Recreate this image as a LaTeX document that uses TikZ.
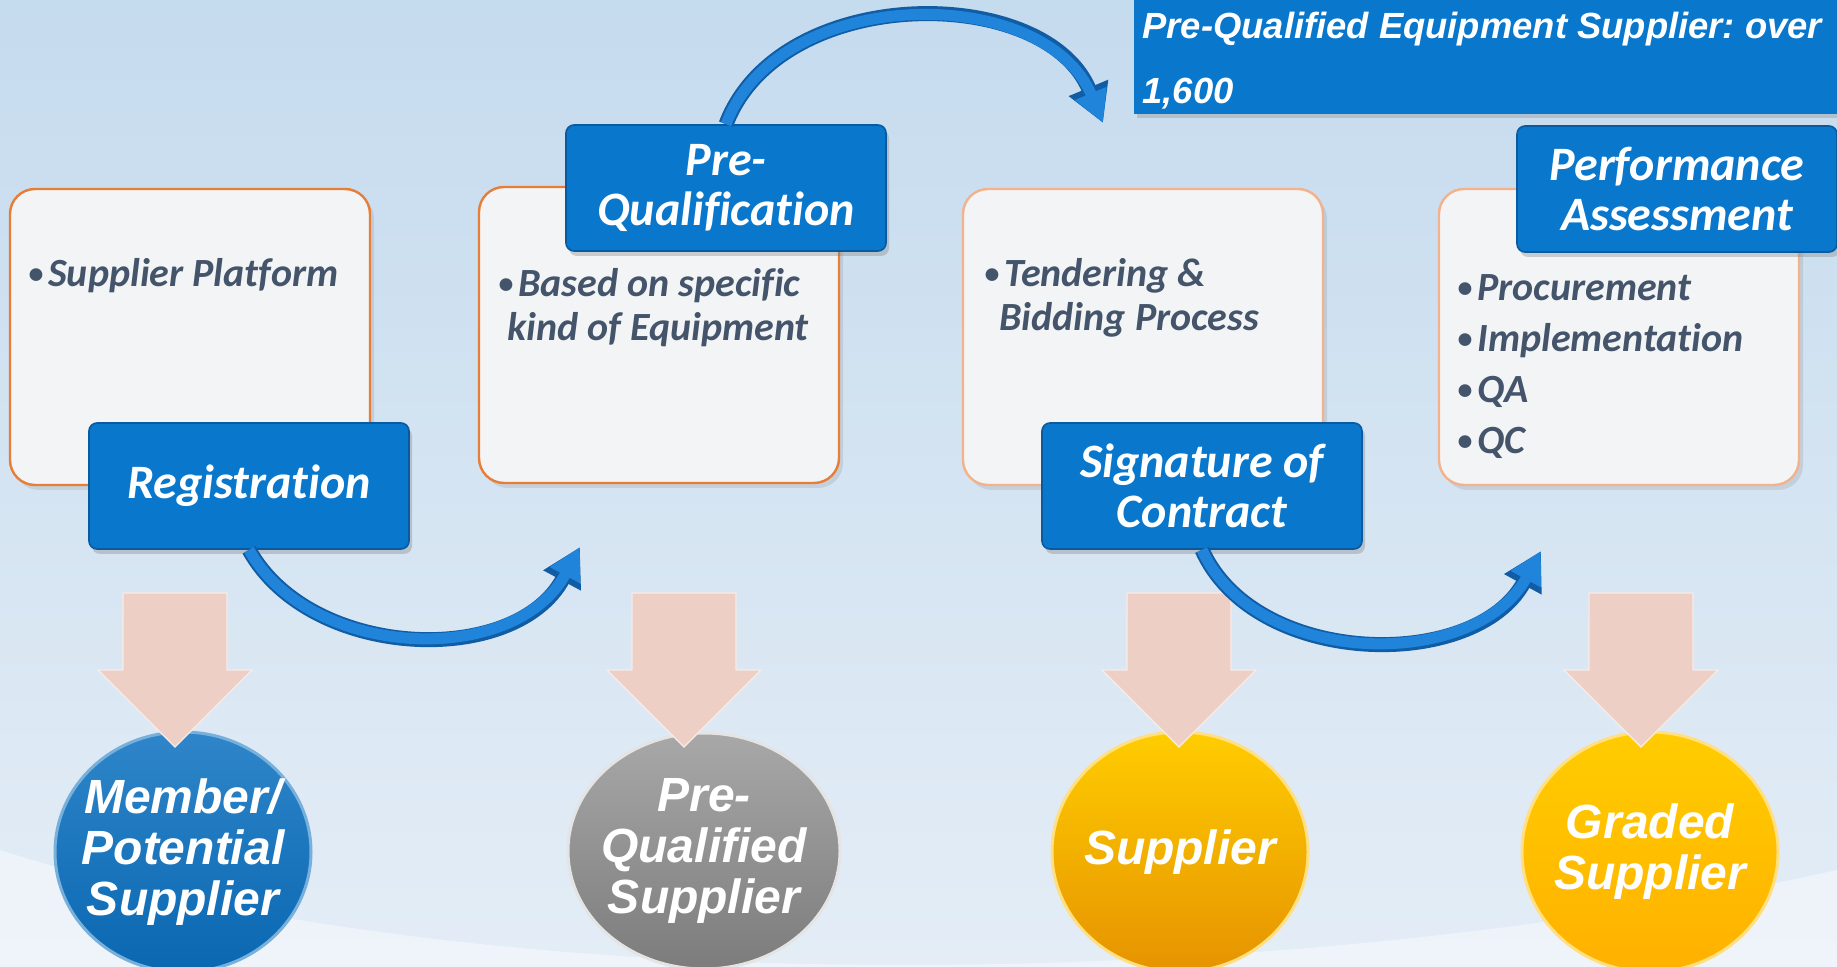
\documentclass[tikz,border=0pt]{standalone}
\usepackage{fontspec}
\setmainfont{Carlito}[Ligatures=NoCommon]
\newfontfamily\arialfont{Liberation Sans}
\usetikzlibrary{arrows.meta,shadows,shapes.geometric,positioning}
\frenchspacing

\definecolor{bgtop}{RGB}{197,219,238}
\definecolor{bgbot}{RGB}{228,237,246}
\definecolor{boxfill}{RGB}{242,244,245}
\definecolor{boxline}{RGB}{232,125,55}
\definecolor{boxlinelight}{RGB}{243,178,140}
\definecolor{labelblue}{RGB}{8,119,204}
\definecolor{labeledge}{RGB}{10,90,160}
\definecolor{slate}{RGB}{68,84,106}
\definecolor{pinkfill}{RGB}{238,207,198}
\definecolor{curveblue}{RGB}{32,132,218}
\definecolor{curveedge}{RGB}{16,92,165}
\definecolor{medblue}{RGB}{10,112,192}
\definecolor{medgrey}{RGB}{146,146,146}
\definecolor{medgold}{RGB}{255,192,0}

\def\pinkarrow#1{(#1-52,593) -- (#1+52,593) -- (#1+52,670) -- (#1+77,670) -- (#1,747) -- (#1-77,670) -- (#1-52,670) -- cycle}
\newcommand{\bul}{{\fontsize{15}{15}\selectfont\raisebox{1.5pt}{\textbullet}}\hspace{2.5pt}}

\tikzset{
  infobox/.style={draw=boxline, line width=1.2pt, fill=boxfill, rounded corners=12.5pt,
    minimum width=180pt, minimum height=148pt, inner sep=0pt,
    drop shadow={shadow xshift=2pt, shadow yshift=-2.5pt, opacity=0.2}},
  stagebox/.style={fill=labelblue, draw=labeledge, line width=0.8pt, rounded corners=4pt,
    minimum width=160pt, minimum height=63pt, inner sep=0pt, align=center, text=white,
    font=\fontsize{24}{25}\selectfont\bfseries\itshape,
    drop shadow={shadow xshift=1.5pt, shadow yshift=-2.5pt, opacity=0.35}},
  bullettext/.style={anchor=base west, inner sep=0pt, align=left, text=slate,
    font=\fontsize{20}{22}\selectfont\bfseries\itshape},
  medal/.style={ellipse, inner sep=-9pt, minimum width=128pt, minimum height=120pt,
    align=center, text=white, line width=1.5pt,
    font=\arialfont\fontsize{24}{25.5}\selectfont\bfseries\itshape},
  bendarrow/.style={draw=curveblue, line width=5.5pt, -{Triangle[length=16pt,width=16pt]},
    preaction={draw=curveedge, line width=7.5pt, -{Triangle[length=19pt,width=20pt]}}},
  pinkdown/.style={fill=pinkfill, draw=white!60!pinkfill, line width=0.6pt}
}

\begin{document}
\begin{tikzpicture}[x=0.5pt,y=-0.5pt]
    \useasboundingbox (0,0) rectangle (1837,967);

    % backdrop
    \fill[top color=bgtop, bottom color=bgbot] (0,0) rectangle (1837,967);
    \fill[white, opacity=0.4] (0,850) .. controls (500,1010) and (1300,990) .. (1837,870)
      -- (1837,967) -- (0,967) -- cycle;

    % step boxes
    \node[infobox] (platbox) at (190,337) {};
    \node[infobox] (pqbox) at (659,335) {};
    \node[infobox, draw=boxlinelight] (tenderbox) at (1143,337) {};
    \node[infobox, draw=boxlinelight] (perfbox) at (1619,337) {};

    % base anchor = last line
    \node[bullettext] (plat) at (28,287) {\bul Supplier Platform};
    \node[bullettext] (equip) at (498,341) {\bul Based on specific\\\hspace{4.5pt}kind of Equipment};
    \node[bullettext] (tender) at (984,331) {\bul Tendering \&\\\hspace{7.5pt}Bidding Process};
    \node[bullettext] (perflist) at (1457,454) {\bul Procurement\\[3.6pt]\bul Implementation\\[3.6pt]\bul QA\\[3.6pt]\bul QC};

    % stage labels
    \node[stagebox] (reg) at (249,486) {Registration};
    \node[stagebox] (pq) at (726,188) {Pre-\\Qualification};
    \node[stagebox] (sig) at (1202,486) {Signature of\\Contract};
    \node[stagebox] (perf) at (1677,189) {Performance\\Assessment};

    % count banner
    \node[fill=labelblue, inner sep=0pt, anchor=north west, minimum width=360pt, minimum height=62pt,
      drop shadow={shadow xshift=1.5pt, shadow yshift=-2pt, opacity=0.3}] (countbox) at (1134,-10) {};
    \node[anchor=base west, inner sep=0pt, align=left, text=white,
      font=\arialfont\fontsize{18.2}{32.5}\selectfont\bfseries\itshape] (count) at (1142,104)
      {Pre-Qualified Equipment Supplier: over\\1,600};

    % medals
    \node[medal, top color=medblue!85!white, middle color=medblue, bottom color=medblue!92!black,
      draw=medblue!55!white] (member) at (183,852) {Member/\\Potential\\Supplier};
    \node[medal, minimum width=136pt, minimum height=118pt, top color=medgrey!80!white,
      middle color=medgrey, bottom color=medgrey!85!black, draw=white!75!medgrey] (prequal) at (704,851) {Pre-\\Qualified\\Supplier};
    \node[medal, top color=medgold!80!yellow, middle color=medgold, bottom color=medgold!85!red!90!black,
      draw=medgold!50!white] (supplier) at (1180,852) {Supplier};
    \node[medal, top color=medgold!80!yellow, middle color=medgold, bottom color=medgold!92!red,
      draw=medgold!50!white] (graded) at (1650,852) {Graded\\Supplier};

    \fill[pinkdown] \pinkarrow{175};
    \fill[pinkdown] \pinkarrow{684};
    \fill[pinkdown] \pinkarrow{1179};
    \fill[pinkdown] \pinkarrow{1641};

    % flow arrows
    \coordinate (regend) at (580,547);
    \coordinate (pqend) at (1103,123);
    \coordinate (sigend) at (1541,551);
    \draw[bendarrow] (reg.south) .. controls (310,660) and (515,668) .. (regend);
    \draw[bendarrow] (pq.north) .. controls (780,-17) and (1045,-17) .. (pqend);
    \draw[bendarrow] (sig.south) .. controls (1255,668) and (1475,672) .. (sigend);

\end{tikzpicture}
\end{document}
